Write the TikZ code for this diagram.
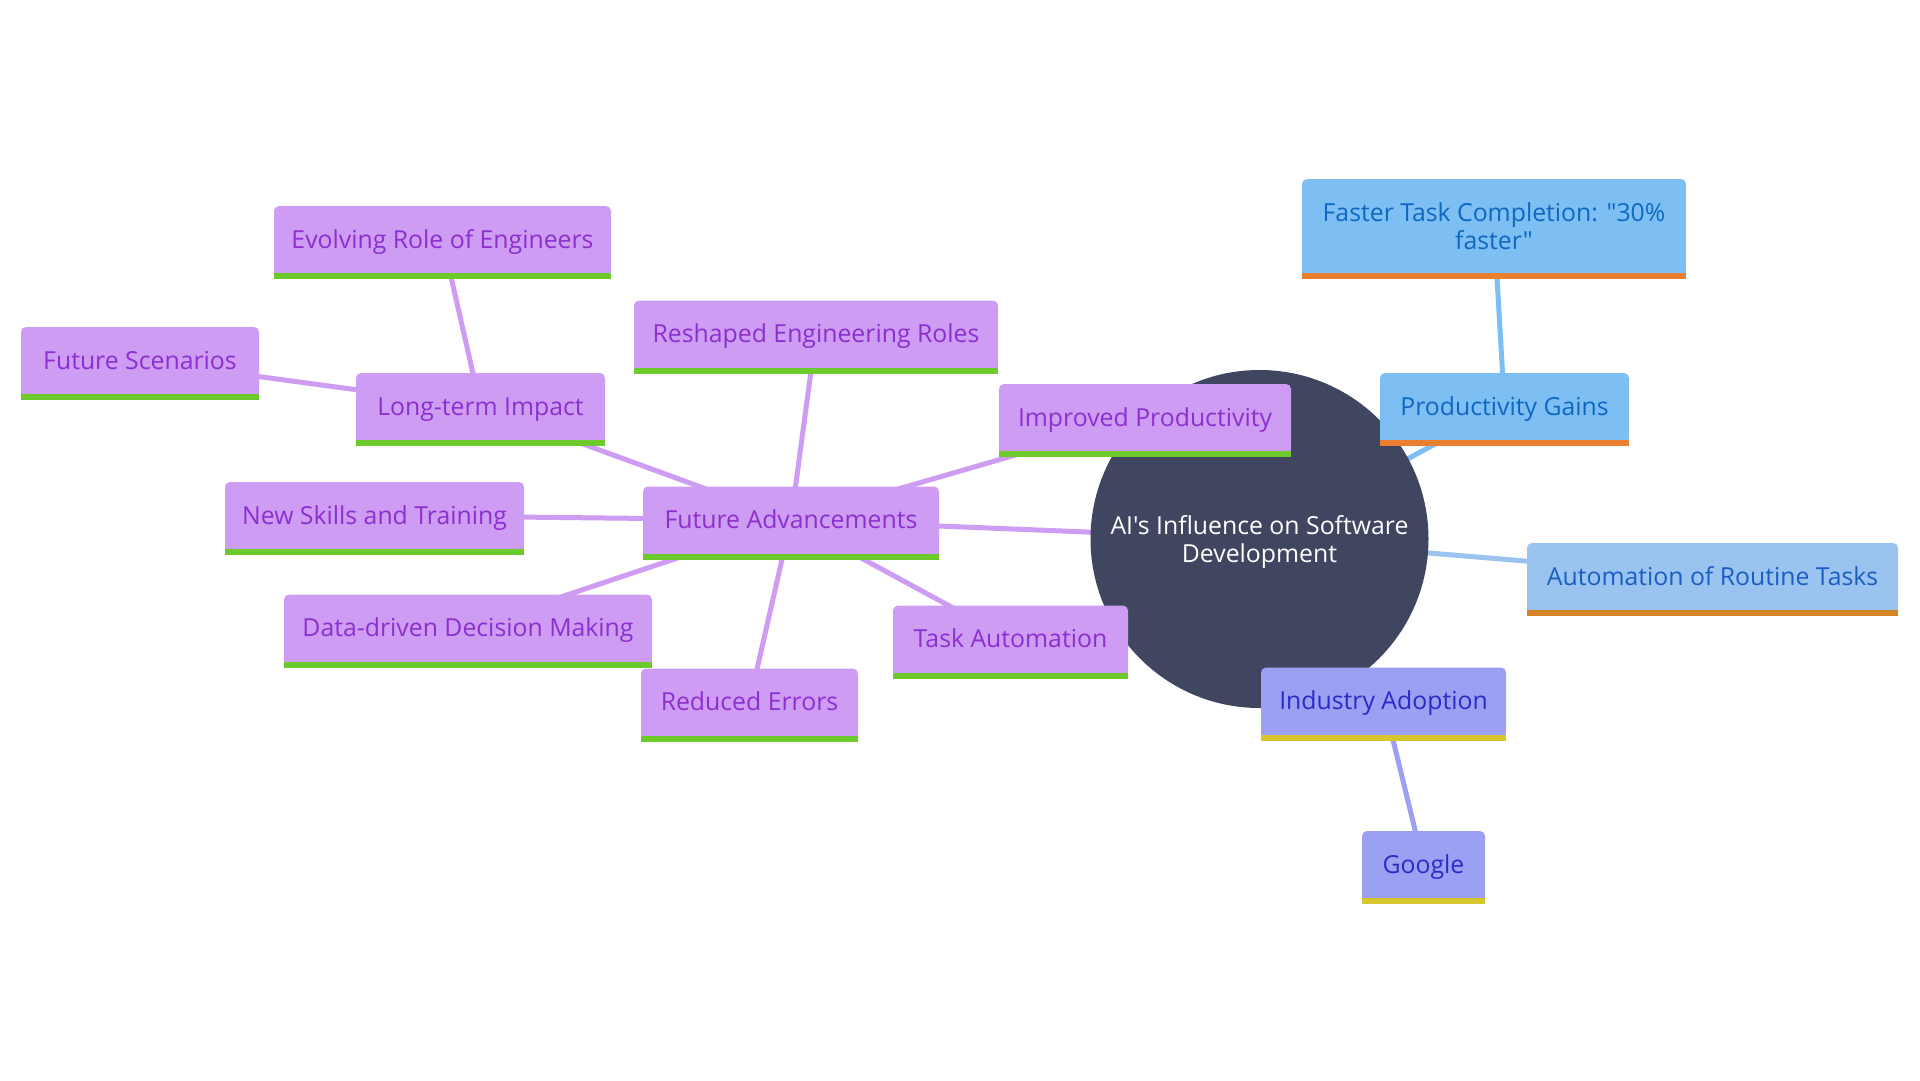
\documentclass[tikz,border=0pt]{standalone}
\usepackage{fontspec}
\newfontfamily\mmfont{Open Sans}
\usetikzlibrary{backgrounds}
\definecolor{pfill}{HTML}{CE9CF2}
\definecolor{ptext}{HTML}{8C2FD0}
\definecolor{pbar}{HTML}{6CCB2A}
\definecolor{bfill}{HTML}{7DBFF2}
\definecolor{btext}{HTML}{0F67C2}
\definecolor{bbar}{HTML}{E97F2F}
\definecolor{afill}{HTML}{9AC3F0}
\definecolor{atext}{HTML}{1A5EC4}
\definecolor{abar}{HTML}{D58428}
\definecolor{ifill}{HTML}{9BA0F2}
\definecolor{itext}{HTML}{2B2BC8}
\definecolor{ibar}{HTML}{D6C82C}
\definecolor{rootc}{HTML}{414660}
\tikzset{
  box/.style={rounded corners=5pt, inner sep=0pt, align=center,
    font=\mmfont\fontsize{24.8}{27.5}\selectfont},
  one/.style={text height=18pt, text depth=1pt},
  pbox/.style={box, one, fill=pfill, text=ptext},
  bbox/.style={box, fill=bfill, text=btext},
  abox/.style={box, one, fill=afill, text=atext},
  ibox/.style={box, one, fill=ifill, text=itext},
  edge/.style={line width=5pt},
  pedge/.style={edge, draw=pfill},
  bedge/.style={edge, draw=bfill},
  aedge/.style={edge, draw=afill},
  iedge/.style={edge, draw=ifill},
  sz/.style n args={2}{minimum width=#1, minimum height=#2}
}
\begin{document}
\begin{tikzpicture}[x=1pt,y=-1pt]
\useasboundingbox (0,0) rectangle (1920,1080);

\node[circle, fill=rootc, minimum size=338pt, inner sep=0pt, text=white,
  font=\mmfont\fontsize{24.8}{28}\selectfont] (root) at (1259.5,539)
  {\raisebox{-4pt}[\height][\depth]{\begin{tabular}{@{}c@{}}AI's Influence on Software\\Development\end{tabular}}};

% purple branch
\node[pbox, sz={296pt}{67pt}] (fa) at (791,520) {Future Advancements};
\node[pbox, sz={292pt}{67pt}] (ip) at (1145,417.5) {Improved Productivity};
\node[pbox, sz={364pt}{67pt}] (rr) at (816,334) {Reshaped Engineering Roles};
\node[pbox, sz={249pt}{67pt}] (lt) at (480.5,406.5) {Long-term Impact};
\node[pbox, sz={337pt}{67pt}] (ev) at (442.5,239.5) {Evolving Role of Engineers};
\node[pbox, sz={238pt}{67pt}] (fs) at (140,360.5) {Future Scenarios};
\node[pbox, sz={299pt}{67pt}] (ns) at (374.5,515.5) {New Skills and Training};
\node[pbox, sz={368pt}{67pt}] (dd) at (468,628) {Data-driven Decision Making};
\node[pbox, sz={217pt}{67pt}] (re) at (749.5,702) {Reduced Errors};
\node[pbox, sz={235pt}{67pt}] (ta) at (1010.5,639) {Task Automation};

% blue branch
\node[bbox, one, sz={249pt}{67pt}] (pg) at (1504.5,406.5) {Productivity Gains};
\node[bbox, sz={384pt}{94pt}] (ft) at (1494,226) {Faster Task Completion: "30\%\\faster"};
\node[abox, sz={371pt}{67pt}] (ar) at (1712.5,576.5) {Automation of Routine Tasks};

% industry branch
\node[ibox, sz={245pt}{67pt}] (ia) at (1383.5,701) {Industry Adoption};
\node[ibox, sz={123pt}{67pt}] (go) at (1423.5,864.5) {Google};

% bars
\foreach \n/\f/\c in {fa/pfill/pbar, ip/pfill/pbar, rr/pfill/pbar, lt/pfill/pbar,
  ev/pfill/pbar, fs/pfill/pbar, ns/pfill/pbar, dd/pfill/pbar, re/pfill/pbar, ta/pfill/pbar,
  pg/bfill/bbar, ft/bfill/bbar, ar/afill/abar, ia/ifill/ibar, go/ifill/ibar}{
  \fill[\f] (\n.south west) rectangle ([yshift=6pt]\n.south east);
  \fill[\c] (\n.south west) rectangle ([yshift=-6pt]\n.south east);
}

\begin{scope}[on background layer]
\fill[white] (0,0) rectangle (1920,1080);
\draw[pedge] (root.center) -- (fa.center);
\draw[pedge] (fa.center) -- (ip.center);
\draw[pedge] (fa.center) -- (rr.center);
\draw[pedge] (fa.center) -- (lt.center);
\draw[pedge] (lt.center) -- (ev.center);
\draw[pedge] (lt.center) -- (fs.center);
\draw[pedge] (fa.center) -- (ns.center);
\draw[pedge] (fa.center) -- (dd.center);
\draw[pedge] (fa.center) -- (re.center);
\draw[pedge] (fa.center) -- (ta.center);
\draw[bedge] (root.center) -- (pg.center);
\draw[bedge] (pg.center) -- (ft.center);
\draw[aedge] (root.center) -- (ar.center);
\draw[iedge] (root.center) -- (ia.center);
\draw[iedge] (ia.center) -- (go.center);
\end{scope}
\end{tikzpicture}
\end{document}
